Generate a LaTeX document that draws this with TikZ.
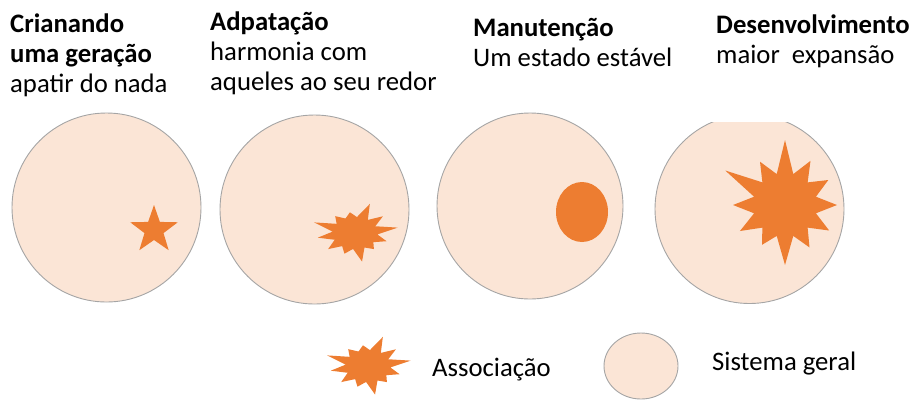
\documentclass[tikz,border=0pt]{standalone}
\usepackage{fontspec}
\setmainfont{Carlito}
\usetikzlibrary{shapes.geometric}
\definecolor{laranja}{HTML}{ED7D31}
\definecolor{pele}{HTML}{FBE5D6}
\definecolor{borda}{HTML}{A5A5A5}

\begin{document}
\begin{tikzpicture}[x=1pt,y=-1pt,
			sis/.style = {draw=borda, fill=pele, line width=0.9pt, inner sep=0pt},
			assoc/.style = {fill=laranja, draw=none},
			titulo/.style = {anchor=base west, align=left, inner sep=0pt,
				font=\fontsize{26.7}{30}\selectfont},
			legenda/.style = {anchor=base west, inner sep=0pt,
				font=\fontsize{26.7}{30}\selectfont},
			explosao/.pic = {
				\fill[assoc, xscale=1.4] (-10:31)
				\foreach \a/\r in {20/24,50/21,80/29,110/22,140/25,170/27,200/31,230/22,260/21,290/31,320/26}
				{-- (\a-15:16) -- (\a:\r)} -- (-25:16) -- cycle;
			},
			]
			\useasboundingbox (0,0) rectangle (912,400);
			
			% titles (anchored at the last line)
			\node[titulo] (t1) at (10,92) {\textbf{Crianando}\\\textbf{uma geração}\\apatir do nada};
			\node[titulo] (t2) at (210,90) {\textbf{Adpatação}\\harmonia com\\aqueles ao seu redor};
			\node[titulo] (t3) at (473,66) {\textbf{Manutenção}\\Um estado estável};
			\node[titulo] (t4) at (716,63) {\textbf{Desenvolvimento}\\maior\ \ expansão};
			
			% the four systems
			\node[sis, circle, minimum size=189pt] (s1) at (106.5,207.5) {};
			\node[sis, circle, minimum size=189pt] (s2) at (314.5,209.5) {};
			\node[sis, circle, minimum size=186pt] (s3) at (530,206) {};
			\begin{scope}
				\clip (640,122) rectangle (860,320);
				\node[sis, circle, minimum size=189pt] (s4) at (749.5,209) {};
			\end{scope}
			
			% associations
			\node[assoc, star, star points=5, star point ratio=2.5, minimum size=50pt, inner sep=0pt] (a1) at (154,230) {};
			\pic (a2) at (355,233) {explosao};
			\node[assoc, ellipse, minimum width=52pt, minimum height=60pt, inner sep=0pt] (a3) at (582,212) {};
			\fill[assoc, shift={(785,205)}] (-90:65)
			\foreach \a/\r in {-60/51,-30/50,0/52,30/51,60/49,90/60,120/46,150/52,180/52,210/69,240/50}
			{-- (\a-15:32) -- (\a:\r)} -- (-105:32) -- cycle;
			
			% legend
			\pic (la) at (368,366) {explosao};
			\node[legenda] (l1) at (432,376) {Associação};
			\node[sis, ellipse, minimum width=74pt, minimum height=66pt] (ls) at (641,366) {};
			\node[legenda] (l2) at (712,370) {Sistema geral};
\end{tikzpicture}
\end{document}
